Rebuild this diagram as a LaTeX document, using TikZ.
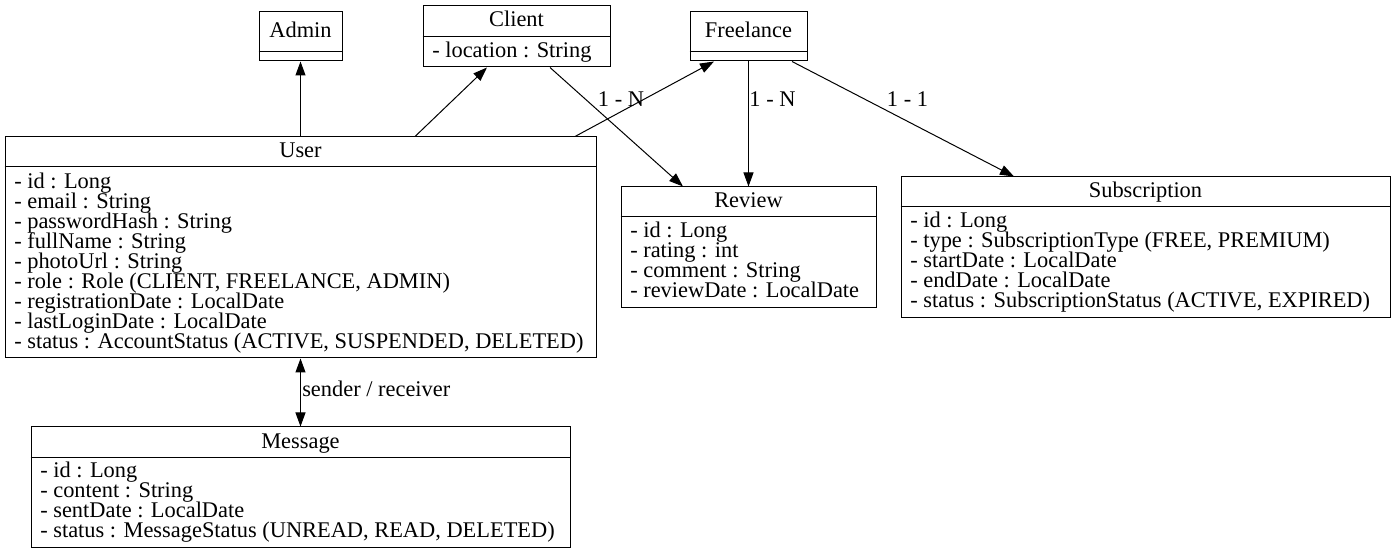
\documentclass[tikz,border=0pt]{standalone}
\usepackage{fontspec}
\setmainfont{Liberation Serif}
\usetikzlibrary{arrows.meta}
\newcommand{\umlfont}{\fontsize{16.8}{15}\selectfont\lineskiplimit=-100pt\relax}
\tikzset{
  box/.style={draw, line width=0.75pt, inner sep=0pt},
  sep/.style={line width=0.75pt},
  hdr/.style={anchor=base, inner sep=0pt, font=\umlfont},
  attrs/.style={anchor=north west, inner sep=0pt, align=left, font=\umlfont},
  lbl/.style={anchor=base, inner sep=0pt, font=\umlfont},
  arr/.style={-{Triangle[length=10.5pt,width=7.5pt]}, line width=0.75pt},
  biarr/.style={{Triangle[length=10.5pt,width=7.5pt]}-{Triangle[length=10.5pt,width=7.5pt]}, line width=0.75pt},
}
\begin{document}
\begin{tikzpicture}[x=0.75pt,y=-0.75pt]
\useasboundingbox (0,0) rectangle (1396,555);

% Admin
\node[box, minimum width=62.25pt, minimum height=36.75pt] (admin) at (300.5,36.5) {};
\draw[sep] (admin.west |- 0,52) -- (admin.east |- 0,52);
\node[hdr] (adminT) at (300.5,37.5) {Admin};

% Client
\node[box, minimum width=140.25pt, minimum height=45.75pt] (client) at (516.5,36.5) {};
\draw[sep] (client.west |- 0,37) -- (client.east |- 0,37);
\node[hdr] (clientT) at (516.5,27) {Client};
\node[attrs] (clientA) at (432,41.7) {- location : String};

% Freelance
\node[box, minimum width=87.75pt, minimum height=36.75pt] (freelance) at (748.5,36.5) {};
\draw[sep] (freelance.west |- 0,52) -- (freelance.east |- 0,52);
\node[hdr] (freelanceT) at (748.5,37.5) {Freelance};

% User
\node[box, minimum width=443.25pt, minimum height=165.75pt] (user) at (300.5,247.5) {};
\draw[sep] (user.west |- 0,167) -- (user.east |- 0,167);
\node[hdr] (userT) at (300.5,158) {User};
\node[attrs] (userA) at (14,172.7) {- id : Long\\- email : String\\- passwordHash : String\\- fullName : String\\- photoUrl : String\\- role : Role (CLIENT, FREELANCE, ADMIN)\\- registrationDate : LocalDate\\- lastLoginDate : LocalDate\\- status : AccountStatus (ACTIVE, SUSPENDED, DELETED)};

% Review
\node[box, minimum width=191.25pt, minimum height=90.75pt] (review) at (748.5,247.5) {};
\draw[sep] (review.west |- 0,217) -- (review.east |- 0,217);
\node[hdr] (reviewT) at (748.5,208) {Review};
\node[attrs] (reviewA) at (630,221.7) {- id : Long\\- rating : int\\- comment : String\\- reviewDate : LocalDate};

% Subscription
\node[box, minimum width=366.75pt, minimum height=105.75pt] (sub) at (1145.5,247.5) {};
\draw[sep] (sub.west |- 0,207) -- (sub.east |- 0,207);
\node[hdr] (subT) at (1145.5,198) {Subscription};
\node[attrs] (subA) at (910,211.7) {- id : Long\\- type : SubscriptionType (FREE, PREMIUM)\\- startDate : LocalDate\\- endDate : LocalDate\\- status : SubscriptionStatus (ACTIVE, EXPIRED)};

% Message
\node[box, minimum width=404.25pt, minimum height=90.75pt] (message) at (300.5,487.5) {};
\draw[sep] (message.west |- 0,458) -- (message.east |- 0,458);
\node[hdr] (messageT) at (300.5,448.5) {Message};
\node[attrs] (messageA) at (40,461.7) {- id : Long\\- content : String\\- sentDate : LocalDate\\- status : MessageStatus (UNREAD, READ, DELETED)};

% connectors
\draw[arr] (user.north) -- (admin.south);
\draw[arr] (user.north -| 415,0) -- (client.south -| 487,0);
\draw[arr] (user.north -| 575,0) -- (freelance.south -| 714,0);
\draw[arr] (client.south -| 550,0) -- (review.north -| 683,0);
\draw[arr] (freelance.south) -- (review.north);
\draw[arr] (freelance.south -| 792,0) -- (sub.north -| 1014,0);
\draw[biarr] (user.south) -- (message.north);

% labels
\node[lbl] (l1) at (621,107) {1 - N};
\node[lbl] (l2) at (772.5,107) {1 - N};
\node[lbl] (l3) at (907.5,107) {1 - 1};
\node[lbl, anchor=base west] (l4) at (302,397) {sender / receiver};
\end{tikzpicture}
\end{document}
